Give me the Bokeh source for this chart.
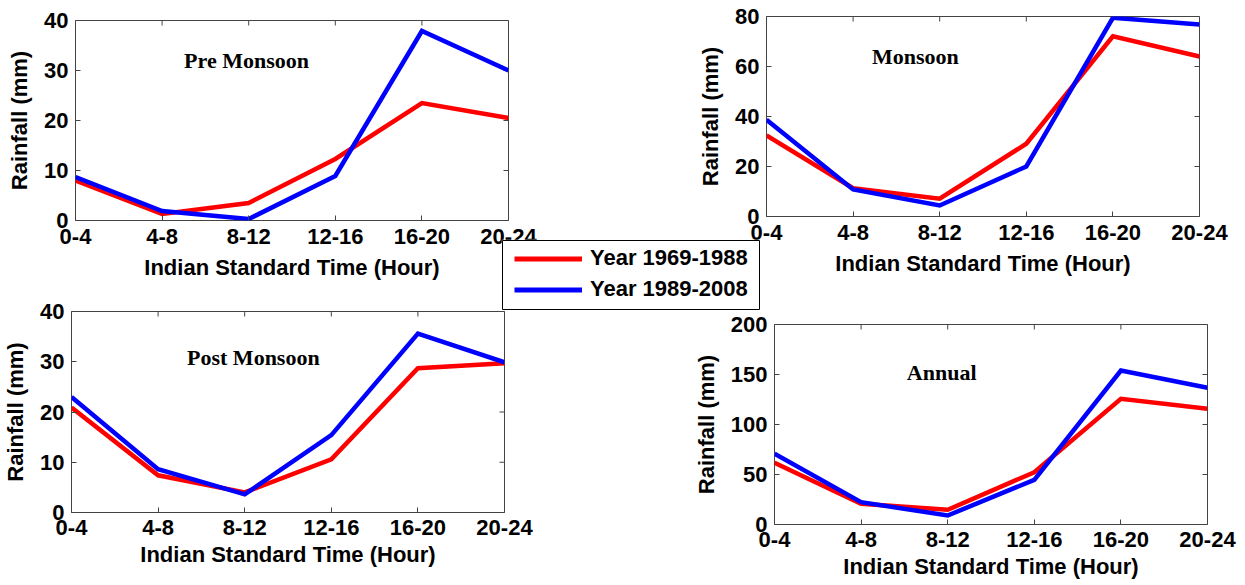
import math
from bokeh.plotting import figure
from bokeh.models import Range1d, FixedTicker, Label, Legend, LegendItem
from bokeh.layouts import row, column
from bokeh.embed import file_html
from bokeh.resources import INLINE

# ---------------- data ----------------
periods = ["0-4", "4-8", "8-12", "12-16", "16-20", "20-24"]

pre_1969_1988 = [8.0, 1.3, 3.5, 12.3, 23.5, 20.5]
pre_1989_2008 = [8.7, 1.9, 0.3, 8.9, 37.9, 30.0]

mon_1969_1988 = [32.4, 11.3, 7.1, 29.1, 72.1, 64.0]
mon_1989_2008 = [38.7, 10.8, 4.4, 20.0, 79.5, 76.8]

post_1969_1988 = [20.9, 7.4, 4.0, 10.6, 28.7, 29.7]
post_1989_2008 = [23.0, 8.6, 3.6, 15.4, 35.6, 29.9]

ann_1969_1988 = [61.7, 20.7, 14.7, 52.3, 125.7, 115.7]
ann_1989_2008 = [70.7, 22.3, 9.0, 44.7, 154.0, 136.7]

pre_ticks = [0, 10, 20, 30, 40]
mon_ticks = [0, 20, 40, 60, 80]
post_ticks = [0, 10, 20, 30, 40]
ann_ticks = [0, 50, 100, 150, 200]

series_labels = ["Year 1969-1988", "Year 1989-2008"]
series_colors = ["#ff0000", "#0000ff"]

x_title = "Indian Standard Time (Hour)"
y_title = "Rainfall (mm)"

# ---------------- style ----------------
FRAME = "#444444"
SANS = "Liberation Sans"
SERIF = "Liberation Serif"
LINE_W = 4.5
FS = "22px"


def style_axis(ax, label_standoff, title_standoff):
    ax.major_tick_in = 5
    ax.major_tick_out = 0
    ax.minor_tick_in = 0
    ax.minor_tick_out = 0
    ax.axis_line_color = None
    ax.major_tick_line_color = FRAME
    ax.major_tick_line_width = 1
    ax.major_label_text_font = SANS
    ax.major_label_text_font_style = "bold"
    ax.major_label_text_font_size = FS
    ax.major_label_text_color = "black"
    ax.major_label_standoff = label_standoff
    ax.axis_label_text_font = SANS
    ax.axis_label_text_font_style = "bold"
    ax.axis_label_text_font_size = FS
    ax.axis_label_text_color = "black"
    ax.axis_label_standoff = title_standoff


def make_panel(title, s1, s2, y_ticks, title_xy, width, height, borders,
               x_std, margin):
    left, right, top, bottom = borders
    xs = list(range(len(periods)))
    p = figure(width=width, height=height,
               x_range=Range1d(xs[0], xs[-1]),
               y_range=Range1d(y_ticks[0], y_ticks[-1]),
               output_backend="svg", toolbar_location=None,
               min_border_left=left, min_border_right=right,
               min_border_top=top, min_border_bottom=bottom,
               margin=margin)
    p.grid.visible = False
    p.outline_line_color = FRAME
    p.outline_line_width = 1
    p.background_fill_color = "white"
    p.border_fill_color = None

    p.xaxis.ticker = FixedTicker(ticks=xs)
    p.xaxis.major_label_overrides = {i: lab for i, lab in enumerate(periods)}
    p.yaxis.ticker = FixedTicker(ticks=y_ticks)
    p.xaxis.axis_label = x_title
    p.yaxis.axis_label = y_title
    style_axis(p.xaxis[0], x_std[0], x_std[1])
    style_axis(p.yaxis[0], 7, 9)

    # mirrored inward ticks on the top and right frame edges
    p.scatter(xs, [y_ticks[-1]] * len(xs), marker="dash", size=10,
              angle=math.pi / 2, line_color=FRAME, line_width=1)
    p.scatter([xs[-1]] * len(y_ticks), y_ticks, marker="dash", size=10,
              line_color=FRAME, line_width=1)

    for vals, col in zip((s1, s2), series_colors):
        p.line(xs, vals, line_color=col, line_width=LINE_W, line_join="miter")

    p.add_layout(Label(x=title_xy[0], y=title_xy[1], text=title,
                       text_font=SERIF, text_font_style="bold",
                       text_font_size=FS, text_color="black",
                       text_align="center", text_baseline="middle"))
    return p


# top row (bokeh aligns frame tops/bottoms within a row -> equal borders,
# p1 shifted down by a margin)
p1 = make_panel("Pre Monsoon", pre_1969_1988, pre_1989_2008, pre_ticks,
                (1.975, 32.0), 640, 300, (75, 132, 16, 84), (8, 8), (4, 0, 0, 0))
p2 = make_panel("Monsoon", mon_1969_1988, mon_1989_2008, mon_ticks,
                (1.72, 64.0), 605, 300, (126, 46, 16, 84), (8, 8), (0, 0, 0, 0))
# bottom row
p3 = make_panel("Post Monsoon", post_1969_1988, post_1989_2008, post_ticks,
                (2.10, 30.8), 640, 286, (71, 136, 24, 61), (7, 4), (0, 0, 0, 0))
p4 = make_panel("Annual", ann_1969_1988, ann_1989_2008, ann_ticks,
                (1.93, 152.0), 605, 285, (134, 38, 24, 61), (7, 4), (13, 0, 0, 0))

# ---------------- legend box ----------------
leg = figure(width=259, height=71, x_range=Range1d(0, 1), y_range=Range1d(0, 1),
             output_backend="svg", toolbar_location=None,
             x_axis_location=None, y_axis_location=None, min_border=1,
             margin=(-65, 0, -23, 501),
             styles={"position": "relative", "z-index": "10"})
leg.grid.visible = False
leg.outline_line_color = "black"
leg.outline_line_width = 1
leg.background_fill_color = "white"
leg.border_fill_color = "white"

items = []
xs_all = list(range(len(periods)))
for lab, col, vals in zip(series_labels, series_colors, (ann_1969_1988, ann_1989_2008)):
    r = leg.line(xs_all, vals, line_color=col, line_width=5, visible=False)
    items.append(LegendItem(label=lab, renderers=[r]))

legend = Legend(items=items, location=(12, 7), padding=0, margin=0,
                spacing=5, glyph_width=68, glyph_height=25, label_height=25,
                label_standoff=8, label_text_font=SANS,
                label_text_font_style="bold", label_text_font_size="22px",
                label_text_color="black", border_line_color=None,
                background_fill_alpha=0)
leg.add_layout(legend)

layout = column(row(p1, p2), leg, row(p3, p4))

open("out.html", "w").write(file_html(layout, INLINE))
